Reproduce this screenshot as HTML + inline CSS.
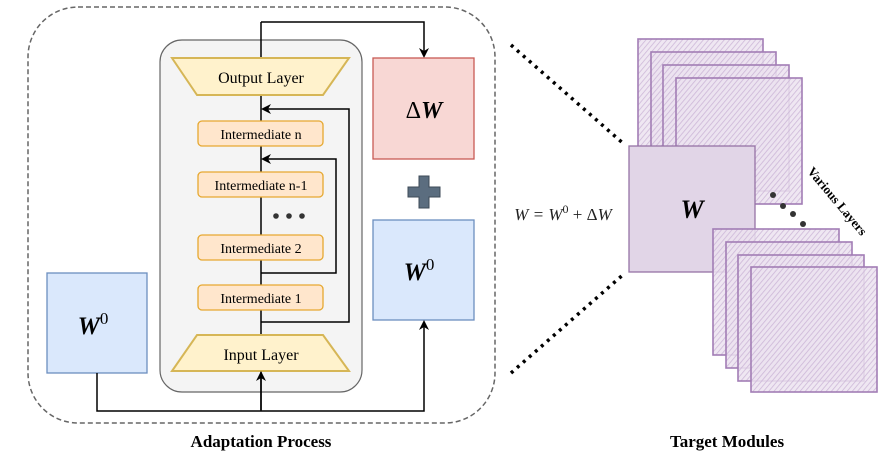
<!DOCTYPE html>
<html><head><meta charset="utf-8"><style>
html,body{margin:0;padding:0;background:#fff;}
svg{display:block;font-family:"Liberation Serif",serif;}
</style></head><body>
<svg width="896" height="457" viewBox="0 0 896 457" xmlns="http://www.w3.org/2000/svg">
<defs>
<marker id="ar" markerWidth="10" markerHeight="10" refX="8" refY="5" orient="auto" markerUnits="userSpaceOnUse">
<path d="M0,0 L10,5 L0,10 L3,5 z" fill="#000"/></marker>
<pattern id="hatch" width="4" height="4" patternUnits="userSpaceOnUse" patternTransform="rotate(40)">
<rect width="4" height="4" fill="#ece3f0" fill-opacity="0.85"/><line x1="0" y1="0" x2="0" y2="4" stroke="#cdb8d8" stroke-width="1.6"/></pattern>
</defs>
<rect x="28" y="7" width="467" height="416" rx="50" fill="none" stroke="#666" stroke-width="1.5" stroke-dasharray="5,3"/>
<rect x="160" y="40" width="202" height="352" rx="22" fill="#f4f4f4" stroke="#666" stroke-width="1.2"/>
<line x1="261" y1="22" x2="261" y2="410" stroke="#000" stroke-width="1.5"/>
<polygon points="172,58 349,58 323,95 197,95" fill="#fff2cc" stroke="#d6b656" stroke-width="2"/>
<text x="261" y="83" font-size="16" text-anchor="middle">Output Layer</text>
<polygon points="197,335 323,335 349,371 172,371" fill="#fff2cc" stroke="#d6b656" stroke-width="2"/>
<text x="261" y="360" font-size="16" text-anchor="middle">Input Layer</text>
<polyline points="261,322 349,322 349,109 263,109" fill="none" stroke="#000" stroke-width="1.5" marker-end="url(#ar)"/>
<polyline points="261,273 336,273 336,159 263,159" fill="none" stroke="#000" stroke-width="1.5" marker-end="url(#ar)"/>
<g fill="#ffe6cc" stroke="#e6a830" stroke-width="1.3">
<rect x="198" y="121" width="125" height="25" rx="4"/>
<rect x="198" y="172" width="125" height="25" rx="4"/>
<rect x="198" y="235" width="125" height="25" rx="4"/>
<rect x="198" y="285" width="125" height="25" rx="4"/>
</g>
<g font-size="14" text-anchor="middle">
<text x="261" y="139">Intermediate n</text>
<text x="261" y="190">Intermediate n-1</text>
<text x="261" y="253">Intermediate 2</text>
<text x="261" y="303">Intermediate 1</text>
</g>
<circle cx="276" cy="216" r="2.8" fill="#333"/><circle cx="289" cy="216" r="2.8" fill="#333"/><circle cx="302" cy="216" r="2.8" fill="#333"/>
<polyline points="261,22 424,22 424,56" fill="none" stroke="#000" stroke-width="1.5" marker-end="url(#ar)"/>
<rect x="373" y="58" width="101" height="101" fill="#f8d7d4" stroke="#c85a54" stroke-width="1.3"/>
<text x="424" y="118" font-size="24" text-anchor="middle"><tspan>Δ</tspan><tspan font-weight="bold" font-style="italic">W</tspan></text>
<path d="M419,176 h10 v11 h11 v10 h-11 v11 h-10 v-11 h-11 v-10 h11 z" fill="#5b6d7f" stroke="#3d4a57" stroke-width="1"/>
<rect x="373" y="220" width="101" height="100" fill="#dae8fc" stroke="#6c8ebf" stroke-width="1.3"/>
<text x="419" y="280" font-size="25" text-anchor="middle" font-weight="bold" font-style="italic">W<tspan font-size="17" font-weight="normal" font-style="normal" dy="-10">0</tspan></text>
<rect x="47" y="273" width="100" height="100" fill="#dae8fc" stroke="#6c8ebf" stroke-width="1.3"/>
<text x="93" y="334" font-size="25" text-anchor="middle" font-weight="bold" font-style="italic">W<tspan font-size="17" font-weight="normal" font-style="normal" dy="-10">0</tspan></text>
<polyline points="97,373 97,411 424,411 424,322" fill="none" stroke="#000" stroke-width="1.5" marker-end="url(#ar)"/>
<line x1="261" y1="411" x2="261" y2="373" stroke="#000" stroke-width="1.5" marker-end="url(#ar)"/>
<text x="261" y="447" font-size="17" font-weight="bold" text-anchor="middle">Adaptation Process</text>
<line x1="511" y1="45" x2="625" y2="145" stroke="#000" stroke-width="3.5" stroke-dasharray="3,5"/>
<line x1="511" y1="373" x2="625" y2="273" stroke="#000" stroke-width="3.5" stroke-dasharray="3,5"/>
<g fill="url(#hatch)" stroke="#a27db5" stroke-width="1.6">
<rect x="638" y="39" width="125" height="126"/>
<rect x="651" y="52" width="125" height="126"/>
<rect x="663" y="65" width="126" height="126"/>
<rect x="676" y="78" width="126" height="126"/>
</g>
<rect x="629" y="146" width="126" height="126" fill="#e1d5e7" stroke="#9673a6" stroke-width="1.3"/>
<text x="692" y="218" font-size="26" font-weight="bold" font-style="italic" text-anchor="middle">W</text>
<g fill="url(#hatch)" stroke="#a27db5" stroke-width="1.6">
<rect x="713" y="229" width="126" height="126"/>
<rect x="726" y="242" width="126" height="126"/>
<rect x="738" y="255" width="126" height="126"/>
<rect x="751" y="267" width="126" height="125"/>
</g>
<g fill="#333"><circle cx="773" cy="195" r="3"/><circle cx="783" cy="206" r="3"/><circle cx="793" cy="214" r="3"/><circle cx="803" cy="224" r="3"/></g>
<text x="834" y="204" font-size="13" font-weight="bold" text-anchor="middle" transform="rotate(50 834 204)">Various Layers</text>
<text x="563" y="220" font-size="17" font-style="italic" text-anchor="middle" fill="#222">W = W<tspan font-style="normal" font-size="12" dy="-7">0</tspan><tspan dy="7" font-style="normal"> + Δ</tspan>W</text>
<text x="727" y="447" font-size="17" font-weight="bold" text-anchor="middle">Target Modules</text>
</svg>
</body></html>
